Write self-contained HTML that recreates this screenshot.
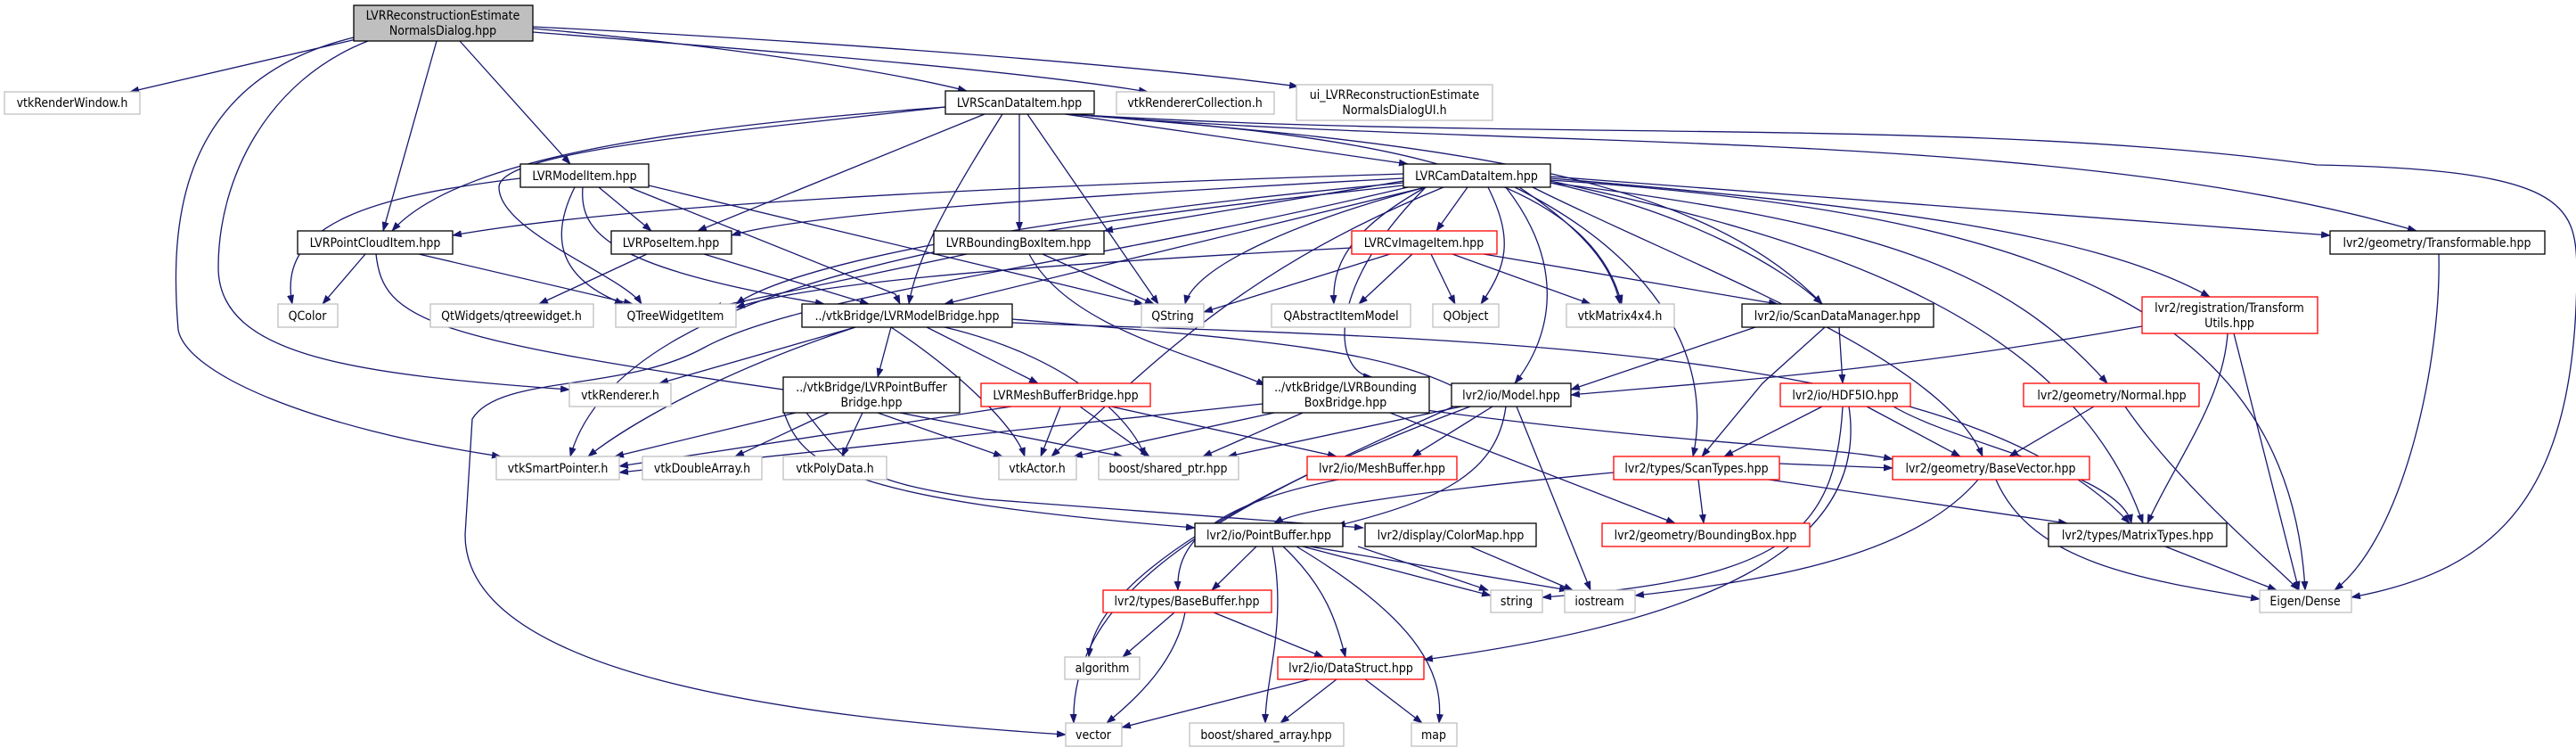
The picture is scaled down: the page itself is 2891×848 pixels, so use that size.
<!DOCTYPE html>
<html><head><meta charset="utf-8"><style>
html,body{margin:0;padding:0;background:#fff;}
svg text{font-family:"DejaVu Sans Condensed","DejaVu Sans","Liberation Sans",sans-serif;font-size:14px;fill:#000;text-anchor:middle;}
.e{fill:none;stroke:#191970;stroke-width:1.3;marker-end:url(#a);}
.n{fill:#fff;stroke:#000;stroke-width:1.3;}
.g{fill:#fff;stroke:#bfbfbf;stroke-width:1.3;}
.r{fill:#fff;stroke:#ff0000;stroke-width:1.3;}
</style></head><body>
<svg width="2891" height="843" viewBox="0 0 2891 843" xmlns="http://www.w3.org/2000/svg">
<defs><marker id="a" markerWidth="11" markerHeight="8" refX="10" refY="4" orient="auto" markerUnits="userSpaceOnUse"><path d="M0,0 L11,4 L0,8 z" fill="#191970"/></marker></defs>
<g>
<path class="e" d="M400,44 L146,103"/>
<path class="e" d="M598,32 C800,50 1000,80 1085,102"/>
<path class="e" d="M598,36 C900,60 1150,80 1288,103"/>
<path class="e" d="M598,30 C900,45 1250,70 1457,97"/>
<path class="e" d="M516,46 L640,184"/>
<path class="e" d="M490,46 L430,259"/>
<path class="e" d="M397,42 C200,90 190,250 200,370 C210,420 350,480 562,512"/>
<path class="e" d="M413,46 C300,90 245,200 245,300 C245,400 400,420 639,437"/>
<path class="e" d="M1061,120 C800,140 520,170 440,259"/>
<path class="e" d="M1061,120 C800,150 560,170 560,210 C560,260 700,310 720,341"/>
<path class="e" d="M1105,128 L783,259"/>
<path class="e" d="M1125,128 C1080,200 1030,280 1020,341"/>
<path class="e" d="M1144,128 L1144,259"/>
<path class="e" d="M1153,128 L1300,341"/>
<path class="e" d="M1195,128 L1580,184"/>
<path class="e" d="M1200,128 C1500,150 1780,180 1820,341"/>
<path class="e" d="M1200,128 C1600,160 1900,190 2045,341"/>
<path class="e" d="M1200,128 C1700,170 2300,140 2712,259"/>
<path class="e" d="M1200,128 C1700,160 2200,130 2600,185 C2880,190 2890,230 2892,300 C2892,560 2800,640 2639,670"/>
<path class="e" d="M584,200 C420,220 310,250 328,341"/>
<path class="e" d="M672,210 L731,259"/>
<path class="e" d="M645,210 C620,260 620,310 700,341"/>
<path class="e" d="M654,210 C650,260 680,300 925,341"/>
<path class="e" d="M706,210 L1005,330 L1010,341"/>
<path class="e" d="M728,208 L1283,341"/>
<path class="e" d="M1575,195 C1100,210 700,230 508,264"/>
<path class="e" d="M1575,200 C1200,220 900,240 821,264"/>
<path class="e" d="M1575,203 L1239,259"/>
<path class="e" d="M1575,205 C1200,240 900,290 826,341"/>
<path class="e" d="M1600,210 L1060,341"/>
<path class="e" d="M1600,210 C1450,250 1340,300 1330,341"/>
<path class="e" d="M1647,210 L1612,259"/>
<path class="e" d="M1600,210 C1510,260 1495,300 1497,341"/>
<path class="e" d="M1670,210 C1700,270 1690,300 1662,341"/>
<path class="e" d="M1705,210 C1780,260 1810,300 1818,341"/>
<path class="e" d="M1740,205 C1900,240 2000,300 2045,341"/>
<path class="e" d="M1740,198 L2615,264"/>
<path class="e" d="M1740,200 C2100,230 2350,260 2480,333"/>
<path class="e" d="M1740,205 C2100,250 2250,300 2365,430"/>
<path class="e" d="M1740,202 C2300,240 2570,350 2587,662"/>
<path class="e" d="M1740,203 C2000,260 2320,340 2405,587"/>
<path class="e" d="M1720,210 C1900,300 2180,400 2225,512"/>
<path class="e" d="M1700,210 C1880,300 1920,420 1900,512"/>
<path class="e" d="M1600,210 C1480,330 1500,420 1540,423"/>
<path class="e" d="M1620,210 C1400,300 1300,400 1180,512"/>
<path class="e" d="M1575,208 C1200,250 700,300 640,512"/>
<path class="e" d="M1690,210 C1760,300 1740,380 1700,430"/>
<path class="e" d="M1580,210 C1200,300 900,330 790,390 C700,440 560,420 530,470 L522,600 C522,760 900,805 1196,824"/>
<path class="e" d="M1517,278 C1100,300 900,320 826,345"/>
<path class="e" d="M1560,285 L1351,350"/>
<path class="e" d="M1585,285 L1525,341"/>
<path class="e" d="M1606,285 L1633,341"/>
<path class="e" d="M1630,285 L1785,341"/>
<path class="e" d="M1665,285 L1995,341"/>
<path class="e" d="M410,285 L362,341"/>
<path class="e" d="M470,285 L710,341"/>
<path class="e" d="M422,285 C430,360 480,380 900,440"/>
<path class="e" d="M726,285 L605,341"/>
<path class="e" d="M790,285 L975,341"/>
<path class="e" d="M1085,285 L800,345"/>
<path class="e" d="M1170,285 L1295,341"/>
<path class="e" d="M1155,285 C1200,370 1350,400 1420,432"/>
<path class="e" d="M960,367 L740,430"/>
<path class="e" d="M1000,367 L985,423"/>
<path class="e" d="M1040,367 L1165,430"/>
<path class="e" d="M960,367 C800,420 700,480 660,512"/>
<path class="e" d="M1000,367 C1080,420 1140,480 1150,512"/>
<path class="e" d="M1060,367 C1200,400 1270,470 1285,512"/>
<path class="e" d="M1136,358 C1400,380 1550,390 1640,438"/>
<path class="e" d="M1136,362 C1600,380 2200,380 2390,587"/>
<path class="e" d="M893,463 L690,512"/>
<path class="e" d="M930,463 L825,512"/>
<path class="e" d="M968,463 L945,512"/>
<path class="e" d="M985,463 L1125,512"/>
<path class="e" d="M1010,463 L1260,512"/>
<path class="e" d="M880,463 C900,520 940,560 1341,592"/>
<path class="e" d="M905,463 C950,520 960,540 1105,560 L1530,592"/>
<path class="e" d="M1135,456 L695,523"/>
<path class="e" d="M1190,456 L1168,512"/>
<path class="e" d="M1212,456 L1290,512"/>
<path class="e" d="M1247,456 L1500,512"/>
<path class="e" d="M1417,453 L695,530"/>
<path class="e" d="M1430,463 L1205,512"/>
<path class="e" d="M1462,463 L1350,512"/>
<path class="e" d="M1560,463 L1880,587"/>
<path class="e" d="M1600,460 C1900,500 2050,500 2124,515"/>
<path class="e" d="M1640,456 L1378,512"/>
<path class="e" d="M1675,456 L1585,512"/>
<path class="e" d="M1690,456 C1680,530 1620,560 1500,590"/>
<path class="e" d="M1702,456 L1785,662"/>
<path class="e" d="M1650,456 C1400,550 1230,650 1222,737"/>
<path class="e" d="M1640,452 C1400,560 1200,650 1205,811"/>
<path class="e" d="M2048,367 L1978,430 L1910,512"/>
<path class="e" d="M2064,367 L2068,430"/>
<path class="e" d="M1970,367 L1763,437"/>
<path class="e" d="M2404,366 C2100,420 1900,430 1763,443"/>
<path class="e" d="M2500,374 C2495,450 2440,520 2410,587"/>
<path class="e" d="M2507,374 L2580,662"/>
<path class="e" d="M2737,285 C2740,400 2700,600 2620,662"/>
<path class="e" d="M2045,456 L1935,512"/>
<path class="e" d="M2095,456 L2200,512"/>
<path class="e" d="M2125,456 C2200,500 2380,530 2392,587"/>
<path class="e" d="M2068,456 C2060,600 2000,650 1731,670"/>
<path class="e" d="M2075,456 C2100,620 1900,700 1598,740"/>
<path class="e" d="M2350,456 L2255,512"/>
<path class="e" d="M2385,456 C2450,550 2560,640 2580,662"/>
<path class="e" d="M1811,530 C1600,550 1460,570 1430,587"/>
<path class="e" d="M1906,538 L1912,587"/>
<path class="e" d="M1985,538 L2320,587"/>
<path class="e" d="M1997,520 L2124,525"/>
<path class="e" d="M2220,538 C2150,620 2000,650 1835,668"/>
<path class="e" d="M2240,538 C2280,630 2400,650 2536,672"/>
<path class="e" d="M2430,613 L2555,662"/>
<path class="e" d="M1410,613 L1360,662"/>
<path class="e" d="M1462,613 L1673,668"/>
<path class="e" d="M1470,613 L1760,662"/>
<path class="e" d="M1440,613 C1490,660 1500,700 1510,737"/>
<path class="e" d="M1428,613 C1445,700 1420,760 1420,811"/>
<path class="e" d="M1455,613 C1600,700 1620,760 1615,811"/>
<path class="e" d="M1524,613 L1670,662"/>
<path class="e" d="M1650,613 L1765,662"/>
<path class="e" d="M1550,530 C1340,560 1320,620 1322,662"/>
<path class="e" d="M1318,687 L1260,737"/>
<path class="e" d="M1330,687 C1320,740 1280,780 1242,811"/>
<path class="e" d="M1362,687 L1485,737"/>
<path class="e" d="M1470,762 L1259,816"/>
<path class="e" d="M1500,762 L1437,811"/>
<path class="e" d="M1532,762 L1596,811"/>
</g>
<rect x="397" y="6" width="201" height="40" fill="#bfbfbf" stroke="#000" stroke-width="1.3"/>
<text x="497" y="22">LVRReconstructionEstimate</text><text x="497" y="39">NormalsDialog.hpp</text>
<rect class="g" x="5" y="103" width="152" height="25"/><text x="81" y="120">vtkRenderWindow.h</text>
<rect class="n" x="1061" y="102" width="167" height="26"/><text x="1144" y="120">LVRScanDataItem.hpp</text>
<rect class="g" x="1253" y="103" width="177" height="25"/><text x="1341" y="120">vtkRendererCollection.h</text>
<rect class="g" x="1455" y="95" width="220" height="40"/><text x="1565" y="111">ui_LVRReconstructionEstimate</text><text x="1565" y="128">NormalsDialogUI.h</text>
<rect class="n" x="584" y="184" width="144" height="26"/><text x="656" y="202">LVRModelItem.hpp</text>
<rect class="n" x="1575" y="184" width="165" height="26"/><text x="1657" y="202">LVRCamDataItem.hpp</text>
<rect class="n" x="334" y="259" width="174" height="26"/><text x="421" y="277">LVRPointCloudItem.hpp</text>
<rect class="n" x="686" y="259" width="135" height="26"/><text x="753" y="277">LVRPoseItem.hpp</text>
<rect class="n" x="1048" y="259" width="191" height="26"/><text x="1143" y="277">LVRBoundingBoxItem.hpp</text>
<rect class="r" x="1517" y="259" width="163" height="26"/><text x="1598" y="277">LVRCvImageItem.hpp</text>
<rect class="n" x="2615" y="259" width="241" height="26"/><text x="2735" y="277">lvr2/geometry/Transformable.hpp</text>
<rect class="g" x="312" y="341" width="67" height="26"/><text x="345" y="359">QColor</text>
<rect class="g" x="483" y="341" width="183" height="26"/><text x="574" y="359">QtWidgets/qtreewidget.h</text>
<rect class="g" x="691" y="341" width="135" height="26"/><text x="758" y="359">QTreeWidgetItem</text>
<rect class="n" x="900" y="341" width="236" height="26"/><text x="1018" y="359">../vtkBridge/LVRModelBridge.hpp</text>
<rect class="g" x="1281" y="341" width="70" height="26"/><text x="1316" y="359">QString</text>
<rect class="g" x="1427" y="341" width="156" height="26"/><text x="1505" y="359">QAbstractItemModel</text>
<rect class="g" x="1608" y="341" width="74" height="26"/><text x="1645" y="359">QObject</text>
<rect class="g" x="1758" y="341" width="121" height="26"/><text x="1818" y="359">vtkMatrix4x4.h</text>
<rect class="n" x="1955" y="341" width="215" height="26"/><text x="2062" y="359">lvr2/io/ScanDataManager.hpp</text>
<rect class="r" x="2404" y="333" width="197" height="41"/><text x="2502" y="350">lvr2/registration/Transform</text><text x="2502" y="367">Utils.hpp</text>
<rect class="g" x="639" y="430" width="114" height="26"/><text x="696" y="448">vtkRenderer.h</text>
<rect class="n" x="879" y="423" width="198" height="40"/><text x="978" y="439">../vtkBridge/LVRPointBuffer</text><text x="978" y="456">Bridge.hpp</text>
<rect class="r" x="1101" y="430" width="190" height="26"/><text x="1196" y="448">LVRMeshBufferBridge.hpp</text>
<rect class="n" x="1417" y="423" width="187" height="40"/><text x="1510" y="439">../vtkBridge/LVRBounding</text><text x="1510" y="456">BoxBridge.hpp</text>
<rect class="n" x="1629" y="430" width="134" height="26"/><text x="1696" y="448">lvr2/io/Model.hpp</text>
<rect class="r" x="1998" y="430" width="146" height="26"/><text x="2071" y="448">lvr2/io/HDF5IO.hpp</text>
<rect class="r" x="2271" y="430" width="197" height="26"/><text x="2370" y="448">lvr2/geometry/Normal.hpp</text>
<rect class="g" x="557" y="512" width="138" height="26"/><text x="626" y="530">vtkSmartPointer.h</text>
<rect class="g" x="721" y="512" width="134" height="26"/><text x="788" y="530">vtkDoubleArray.h</text>
<rect class="g" x="879" y="512" width="116" height="26"/><text x="937" y="530">vtkPolyData.h</text>
<rect class="g" x="1121" y="512" width="87" height="26"/><text x="1164" y="530">vtkActor.h</text>
<rect class="g" x="1233" y="512" width="157" height="26"/><text x="1311" y="530">boost/shared_ptr.hpp</text>
<rect class="r" x="1467" y="512" width="168" height="26"/><text x="1551" y="530">lvr2/io/MeshBuffer.hpp</text>
<rect class="r" x="1811" y="512" width="186" height="26"/><text x="1904" y="530">lvr2/types/ScanTypes.hpp</text>
<rect class="r" x="2124" y="512" width="221" height="26"/><text x="2234" y="530">lvr2/geometry/BaseVector.hpp</text>
<rect class="n" x="1341" y="587" width="166" height="26"/><text x="1424" y="605">lvr2/io/PointBuffer.hpp</text>
<rect class="n" x="1532" y="587" width="192" height="26"/><text x="1628" y="605">lvr2/display/ColorMap.hpp</text>
<rect class="r" x="1798" y="587" width="233" height="26"/><text x="1914" y="605">lvr2/geometry/BoundingBox.hpp</text>
<rect class="n" x="2299" y="587" width="200" height="26"/><text x="2399" y="605">lvr2/types/MatrixTypes.hpp</text>
<rect class="r" x="1238" y="662" width="189" height="25"/><text x="1332" y="679">lvr2/types/BaseBuffer.hpp</text>
<rect class="g" x="1673" y="662" width="58" height="25"/><text x="1702" y="679">string</text>
<rect class="g" x="1756" y="662" width="79" height="25"/><text x="1795" y="679">iostream</text>
<rect class="g" x="2536" y="662" width="103" height="25"/><text x="2587" y="679">Eigen/Dense</text>
<rect class="g" x="1195" y="737" width="84" height="25"/><text x="1237" y="754">algorithm</text>
<rect class="r" x="1434" y="737" width="164" height="25"/><text x="1516" y="754">lvr2/io/DataStruct.hpp</text>
<rect class="g" x="1196" y="811" width="63" height="26"/><text x="1227" y="829">vector</text>
<rect class="g" x="1335" y="811" width="173" height="26"/><text x="1421" y="829">boost/shared_array.hpp</text>
<rect class="g" x="1584" y="811" width="51" height="26"/><text x="1609" y="829">map</text>
</svg>
</body></html>
